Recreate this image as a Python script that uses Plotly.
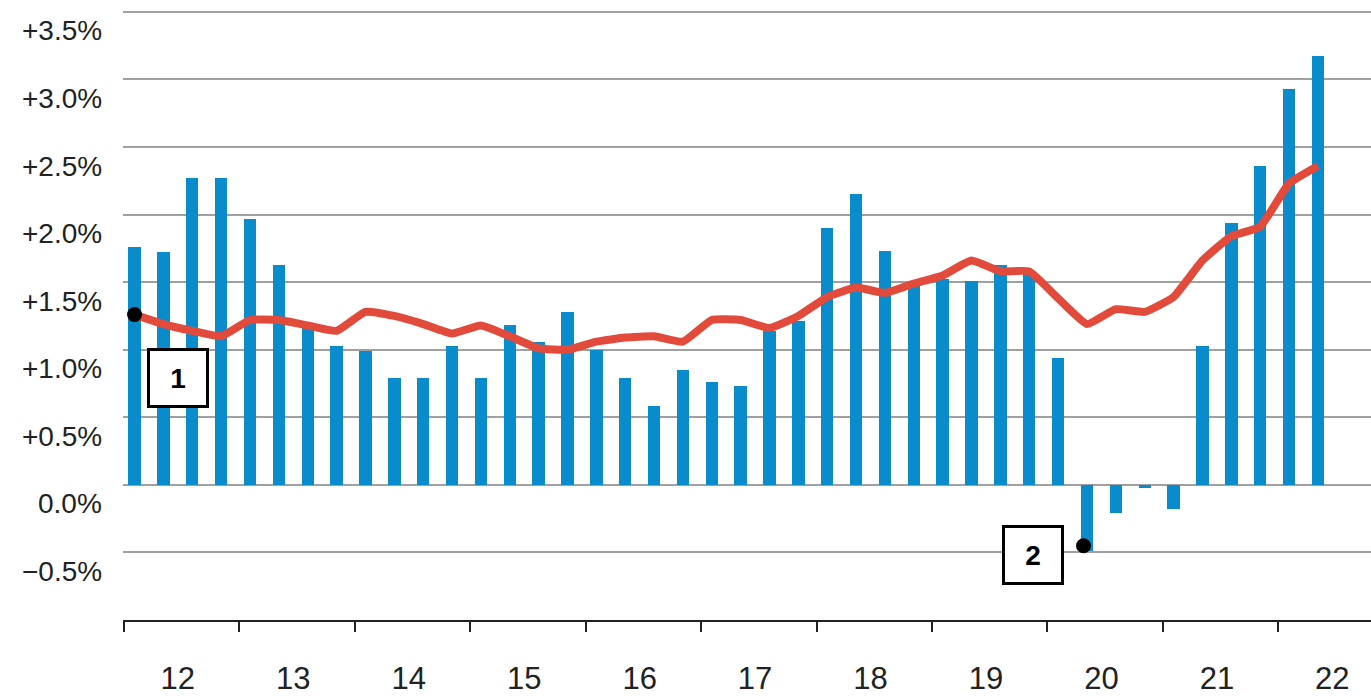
import plotly.graph_objects as go

years = ["12", "13", "14", "15", "16", "17", "18", "19", "20", "21", "22"]

# quarterly growth (bars), 2012Q1 .. 2022Q2
growth = [1.76, 1.72, 2.27, 2.27, 1.97, 1.63, 1.16, 1.03, 0.99, 0.79, 0.79, 1.03,
          0.79, 1.18, 1.06, 1.28, 1.00, 0.79, 0.58, 0.85, 0.76, 0.73, 1.14, 1.21,
          1.90, 2.15, 1.73, 1.47, 1.52, 1.51, 1.63, 1.58, 0.94, -0.49, -0.21, -0.02,
          -0.18, 1.03, 1.94, 2.36, 2.93, 3.17]

# trend line (red)
trend = [1.26, 1.19, 1.14, 1.10, 1.22, 1.22, 1.18, 1.14, 1.28, 1.25, 1.19, 1.12,
         1.18, 1.10, 1.01, 1.00, 1.06, 1.09, 1.10, 1.06, 1.22, 1.22, 1.16, 1.25,
         1.39, 1.46, 1.42, 1.49, 1.55, 1.66, 1.58, 1.58, 1.38, 1.19, 1.30, 1.28,
         1.39, 1.66, 1.84, 1.91, 2.23, 2.36]

ytick_vals = [-0.5, 0.0, 0.5, 1.0, 1.5, 2.0, 2.5, 3.0, 3.5]
ytick_text = ["\u22120.5%", "0.0%", "+0.5%", "+1.0%", "+1.5%", "+2.0%", "+2.5%", "+3.0%", "+3.5%"]

callouts = [("1", 0, "trend"), ("2", 33, "growth")]

n = len(growth)
xs = list(range(n))

fig = go.Figure()
fig.add_trace(go.Bar(x=xs, y=growth, width=0.43, marker=dict(color="#0a8bcc", line=dict(width=0)),
                     hoverinfo="skip"))
fig.add_trace(go.Scatter(x=xs, y=trend, mode="lines",
                         line=dict(color="#e24b3b", width=8, shape="spline", smoothing=0.4),
                         hoverinfo="skip"))

# callout dots
dot_x = []
dot_y = []
for label, idx, src in callouts:
    dot_x.append(idx - (0.12 if src == "growth" else 0))
    dot_y.append(trend[idx] if src == "trend" else growth[idx] + 0.04)
fig.add_trace(go.Scatter(x=dot_x, y=dot_y, mode="markers",
                         marker=dict(color="black", size=15), hoverinfo="skip"))

annotations = []
# y tick labels drawn below their gridlines
for v, t in zip(ytick_vals, ytick_text):
    annotations.append(dict(xref="paper", yref="y", x=0, y=v, text=t, showarrow=False,
                            xanchor="right", yanchor="middle", xshift=-19, yshift=-19,
                            font=dict(family="Liberation Sans, Arial", size=28, color="#222222")))

# callout boxes
box_pos = {"1": (1.51, 0.79), "2": (31.14, -0.52)}
for label, idx, src in callouts:
    bx, by = box_pos[label]
    annotations.append(dict(x=bx, y=by, xref="x", yref="y", text="<b>%s</b>" % label,
                            showarrow=False, bgcolor="white", bordercolor="black", borderwidth=3,
                            borderpad=0, width=56, height=54,
                            font=dict(family="Liberation Sans, Arial", size=28, color="black")))

fig.update_layout(
    width=1371, height=696,
    margin=dict(l=123, r=0, t=0, b=73),
    plot_bgcolor="white", paper_bgcolor="white",
    showlegend=False, bargap=0,
    annotations=annotations,
    xaxis=dict(
        range=[-0.4, 42.84],
        tickmode="array",
        tickvals=[4 * i + 1.5 for i in range(len(years))],
        ticktext=years,
        ticks="",
        ticklabelstandoff=30,
        tickfont=dict(family="Liberation Sans, Arial", size=31, color="#222222"),
        showgrid=False, zeroline=False,
        showline=True, linecolor="#222222", linewidth=2,
        minor=dict(tickmode="array", tickvals=[4 * i - 0.37 for i in range(len(years))],
                   ticks="outside", ticklen=10, tickwidth=2, tickcolor="#222222", showgrid=False),
    ),
    yaxis=dict(
        range=[-1.0, 3.588],
        tickmode="array", tickvals=ytick_vals,
        showticklabels=False, ticks="",
        showgrid=True, gridcolor="#a0a0a0", gridwidth=1.5,
        zeroline=False, showline=False,
    ),
)

fig.write_html("out.html", config={"displayModeBar": False},
               post_script="document.body.style.margin='0';document.body.style.overflow='hidden';")
